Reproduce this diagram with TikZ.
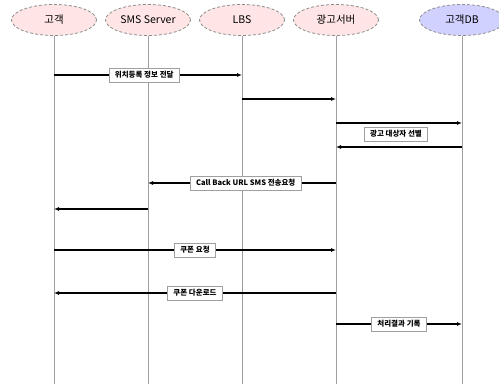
\documentclass[tikz,border=0pt]{standalone}
\usepackage{fontspec}
\setmainfont{Noto Sans CJK KR}
\usetikzlibrary{shapes.geometric, arrows.meta, positioning}

\begin{document}
\begin{tikzpicture}[
			x=1pt, y=-1pt,
			every node/.style={font=\fontsize{10.5}{12}\selectfont},
			actor/.style={
				ellipse,
				minimum width=85pt,
				minimum height=31pt,
				inner sep=0pt,
				draw=gray!90,
				line width=0.8pt,
				densely dashed,
				fill=red!10
			},
			dbactor/.style={
				actor,
				fill=blue!18
			},
			lifeline/.style={draw=gray!75, line width=1pt},
			label/.style={
				rectangle,
				draw=gray!75,
				line width=0.8pt,
				fill=white,
				inner xsep=6pt,
				minimum height=14pt,
				inner ysep=1pt,
				font=\fontsize{7.5}{8}\selectfont\bfseries
			},
			arrow/.style={line width=1.3pt,-{Latex[length=5pt,width=4pt]}}
			]
			\useasboundingbox (0,0) rectangle (499,384);
			
			% Nodes
			\node (gogaek) [actor] at (54,20) {고객};
			\node (sms) [actor] at (148,20) {SMS Server};
			\node (lbs) [actor] at (242,20) {LBS};
			\node (adserver) [actor] at (336,20) {광고서버};
			\node (db) [dbactor] at (462,20) {고객DB};
			
			% Lifelines
			\foreach \who in {gogaek, sms, lbs, adserver, db}
				\draw [lifeline] (\who.south) -- (\who |- 0,384);
			
			% Arrows
			\draw [arrow] (gogaek |- 0,75) -- node[label, pos=0.48] {위치등록 정보 전달} (lbs |- 0,75);
			\draw [arrow] (lbs |- 0,99) -- (adserver |- 0,99);
			\draw [arrow] (adserver |- 0,123) -- (db |- 0,123);
			\draw [arrow] (db |- 0,147) -- (adserver |- 0,147);
			\node (select) [label] at (396,134) {광고 대상자 선별};
			\draw [arrow] (adserver |- 0,183) -- node[label, pos=0.48] {Call Back URL SMS 전송요청} (sms |- 0,183);
			\draw [arrow] (sms |- 0,209) -- (gogaek |- 0,209);
			\draw [arrow] (gogaek |- 0,250) -- node[label] {쿠폰 요청} (adserver |- 0,250);
			\draw [arrow] (adserver |- 0,293) -- node[label] {쿠폰 다운로드} (gogaek |- 0,293);
			\draw [arrow] (adserver |- 0,324) -- node[label] {처리결과 기록} (db |- 0,324);
			
		\end{tikzpicture}
\end{document}
